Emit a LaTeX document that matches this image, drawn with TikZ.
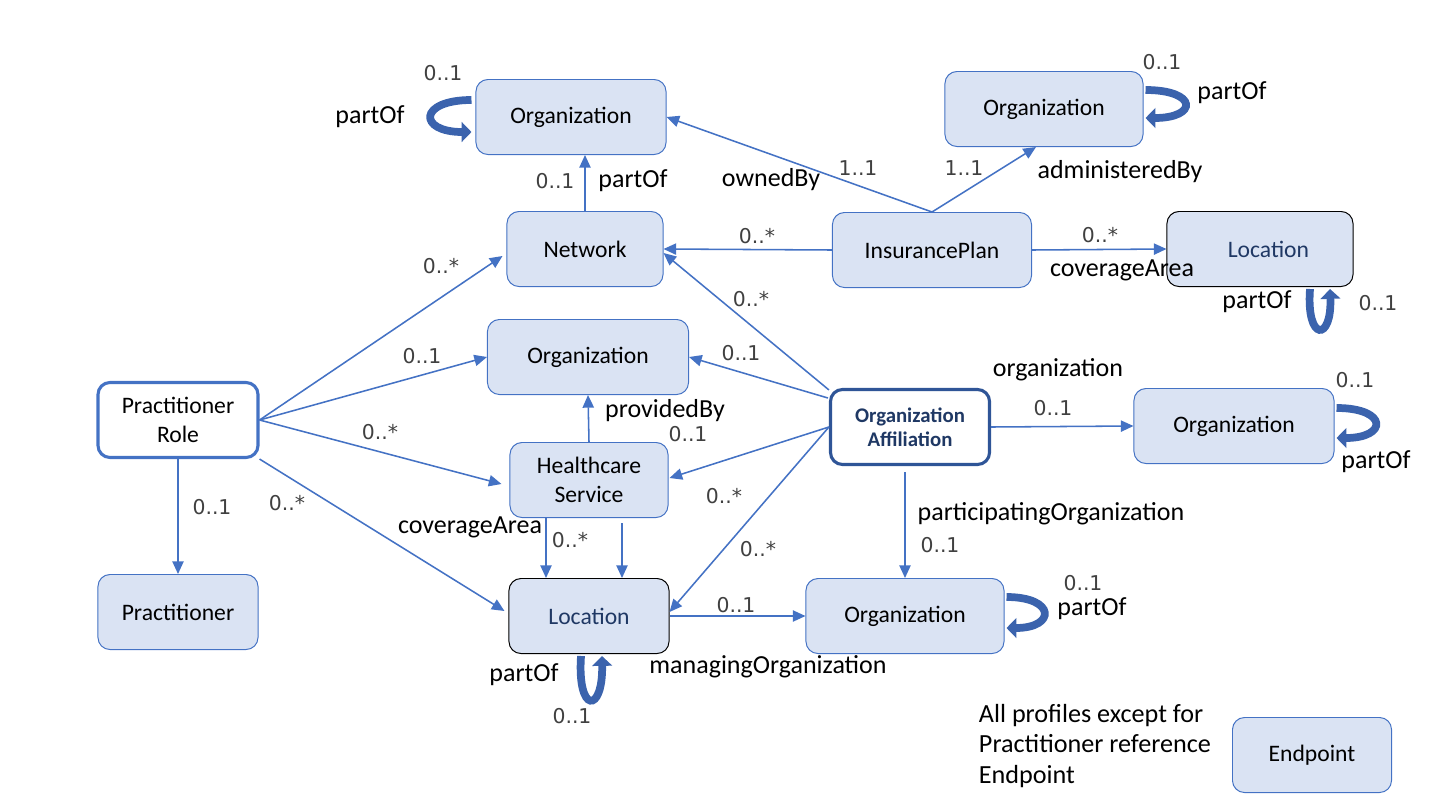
\documentclass[tikz,border=0pt]{standalone}
\usepackage{fontspec}
\setmainfont{Carlito}
\newfontfamily\multfont{DejaVu Sans}
\usepackage{xcolor}
\usetikzlibrary{arrows.meta,calc}
\definecolor{boxfill}{HTML}{DAE3F3}
\definecolor{boxline}{HTML}{4472C4}
\definecolor{affline}{HTML}{2F5597}
\definecolor{navy}{HTML}{1F3864}
\definecolor{loopblue}{HTML}{3B63AD}
\definecolor{multgray}{HTML}{404040}

\begin{document}
\begin{tikzpicture}[x=0.025cm, y=-0.025cm,
  box/.style={draw=boxline, fill=boxfill, rounded corners=0.3cm, minimum height=1.875cm,
              minimum width=4cm, text centered, align=center, line width=0.7pt,
              font=\fontsize{16.8}{20.5}\selectfont},
  locbox/.style={box, draw=black, text=navy},
  rolebox/.style={box, fill=white, line width=2.2pt},
  affbox/.style={box, fill=white, draw=affline, line width=2.2pt, text=navy,
              font=\fontsize{14.8}{17}\selectfont\bfseries},
  arrow/.style={-{Triangle[width=8pt,length=9pt]}, draw=boxline, line width=1.1pt},
  selfloop/.style={-{Triangle[width=14pt,length=7pt]}, draw=loopblue, line width=5.5pt},
  mult/.style={font=\multfont\fontsize{14.5}{17}\selectfont, text=multgray, inner sep=1pt},
  role/.style={font=\fontsize{18.5}{22}\selectfont, inner sep=1pt},
]
\useasboundingbox (0,0) rectangle (1440,810);

% Top row
\node[box, minimum width=4.75cm]  (orgTop) at (571,117)  {Organization};
\node[box, minimum width=4.95cm]  (orgTR)  at (1044,109) {Organization};

% Second row
\node[box, minimum width=3.9cm]   (net)    at (585,249)  {Network};
\node[box, minimum width=4.975cm] (ins)    at (932,250)  {InsurancePlan};
\node[locbox, minimum width=4.65cm] (locTR) at (1260,249) {\hspace*{12pt}Location};

% Middle
\node[box, minimum width=5.025cm] (orgMid) at (588,357)  {Organization};
\node[rolebox] (pr) at (178,420) {Practitioner\\Role};
\node[affbox, minimum width=3.975cm] (oa) at (910,427) {Organization\\Affiliation};
\node[box, minimum width=5cm]     (orgR)   at (1234,426) {Organization};
\node[box, minimum width=3.95cm]  (hc)     at (589,480)  {Healthcare\\Service};

% Bottom row
\node[box]                        (prac)   at (178,612)  {Practitioner};
\node[locbox]                     (locB)   at (589,616)  {Location};
\node[box, minimum width=4.95cm]  (orgB)   at (905,616)  {Organization};
\node[box, minimum width=3.975cm] (ep)     at (1312,755) {Endpoint};

% Legend
\node[anchor=west, align=left, font=\fontsize{18.6}{22}\selectfont] (legend) at (974,746)
  {All profiles except for\\Practitioner reference\\Endpoint};

% Connectors
\draw[arrow] (net.north) -- ($(orgTop.south)+(14,0)$);
\draw[arrow] (ins.north) -- (orgTop.east);
\draw[arrow] (ins.north) -- ($(orgTR.south)+(-8,0)$);
\draw[arrow] (ins.west) -- (net.east);
\draw[arrow] (ins.east) -- (locTR.west);
\draw[arrow] (pr.east) -- ($(net.west)+(-4,7)$);
\draw[arrow] (pr.east) -- (orgMid.west);
\draw[arrow] (pr.east) -- ($(hc.west)+(-8,4)$);
\draw[arrow] (pr.south east) -- ($(locB.west)+(-4,-5)$);
\draw[arrow] (pr.south) -- (prac.north);
\draw[arrow] (hc.north) -- (orgMid.south);
\draw[arrow] ($(hc.south)+(-43,0)$) -- ($(locB.north)+(-43,0)$);
\draw[arrow] ($(hc.south)+(33,5)$) -- ($(locB.north)+(33,0)$);
\draw[arrow] ($(oa.north west)+(0,2)$) -- ($(net.east)+(0,4)$);
\draw[arrow] ($(oa.west)+(-1,-29)$) -- (orgMid.east);
\draw[arrow] (oa.west) -- ($(hc.east)+(1,-2)$);
\draw[arrow] (oa.west) -- ($(locB.east)+(0,-4)$);
\draw[arrow] (oa.east) -- (orgR.west);
\draw[arrow] ($(oa.south)+(-5,6)$) -- ($(orgB.south)+(0,-76)$);
\draw[arrow] (locB.east) -- (orgB.west);

% Self references
\draw[selfloop] ($(orgTop.west)+(-4,-17)$) .. controls (418,100) and (418,132) .. ($(orgTop.west)+(-4,15)$);
\draw[selfloop] ($(orgTR.east)+(2,-19)$) .. controls (1198,90) and (1198,118) .. ($(orgTR.east)+(2,9)$);
\draw[selfloop] ($(locTR.south)+(50,2)$) .. controls (1306,342) and (1332,342) .. ($(locTR.south)+(70,2)$);
\draw[selfloop] ($(orgR.east)+(2,-18)$) .. controls (1388,408) and (1388,438) .. ($(orgR.east)+(2,12)$);
\draw[selfloop] ($(orgB.east)+(2,-19)$) .. controls (1056,597) and (1056,628) .. ($(orgB.east)+(2,12)$);
\draw[selfloop] ($(locB.south)+(-8,2)$) .. controls (577,714) and (603,714) .. ($(locB.south)+(13,2)$);

% Multiplicities
\node[mult] (m1)  at (555,181)  {0..1};
\node[mult] (m2)  at (858,168)  {1..1};
\node[mult] (m3)  at (964,168)  {1..1};
\node[mult] (m4)  at (757,236)  {0..*};
\node[mult] (m5)  at (1100,235) {0..*};
\node[mult] (m6)  at (441,266)  {0..*};
\node[mult] (m7)  at (422,356)  {0..1};
\node[mult] (m8)  at (380,432)  {0..*};
\node[mult] (m9)  at (287,503)  {0..*};
\node[mult] (m10) at (212,507)  {0..1};
\node[mult] (m11) at (688,434)  {0..1};
\node[mult] (m12) at (570,540)  {0..*};
\node[mult] (m13) at (751,299)  {0..*};
\node[mult] (m14) at (741,353)  {0..1};
\node[mult] (m15) at (724,496)  {0..*};
\node[mult] (m16) at (758,549)  {0..*};
\node[mult] (m17) at (1053,408) {0..1};
\node[mult] (m18) at (940,545)  {0..1};
\node[mult] (m19) at (736,605)  {0..1};
\node[mult] (m20) at (443,73)   {0..1};
\node[mult] (m21) at (1162,62)  {0..1};
\node[mult] (m22) at (1378,303) {0..1};
\node[mult] (m23) at (1355,380) {0..1};
\node[mult] (m24) at (1083,583) {0..1};
\node[mult] (m25) at (572,716)  {0..1};

% Role names
\node[role] (r1)  at (633,181)  {partOf};
\node[role] (r2)  at (771,180)  {ownedBy};
\node[role] (r3)  at (1120,172) {administeredBy};
\node[role] (r4)  at (1122,270) {coverageArea};
\node[role] (r5)  at (665,411)  {providedBy};
\node[role] (r6)  at (470,527)  {coverageArea};
\node[role] (r7)  at (1058,370) {organization};
\node[role] (r8)  at (1051,514) {participatingOrganization};
\node[role] (r9)  at (768,667)  {managingOrganization};
\node[role] (r10) at (370,117)  {partOf};
\node[role] (r11) at (1232,93)  {partOf};
\node[role] (r12) at (1257,302) {partOf};
\node[role] (r13) at (1376,462) {partOf};
\node[role] (r14) at (1092,609) {partOf};
\node[role] (r15) at (524,675)  {partOf};

\end{tikzpicture}
\end{document}
